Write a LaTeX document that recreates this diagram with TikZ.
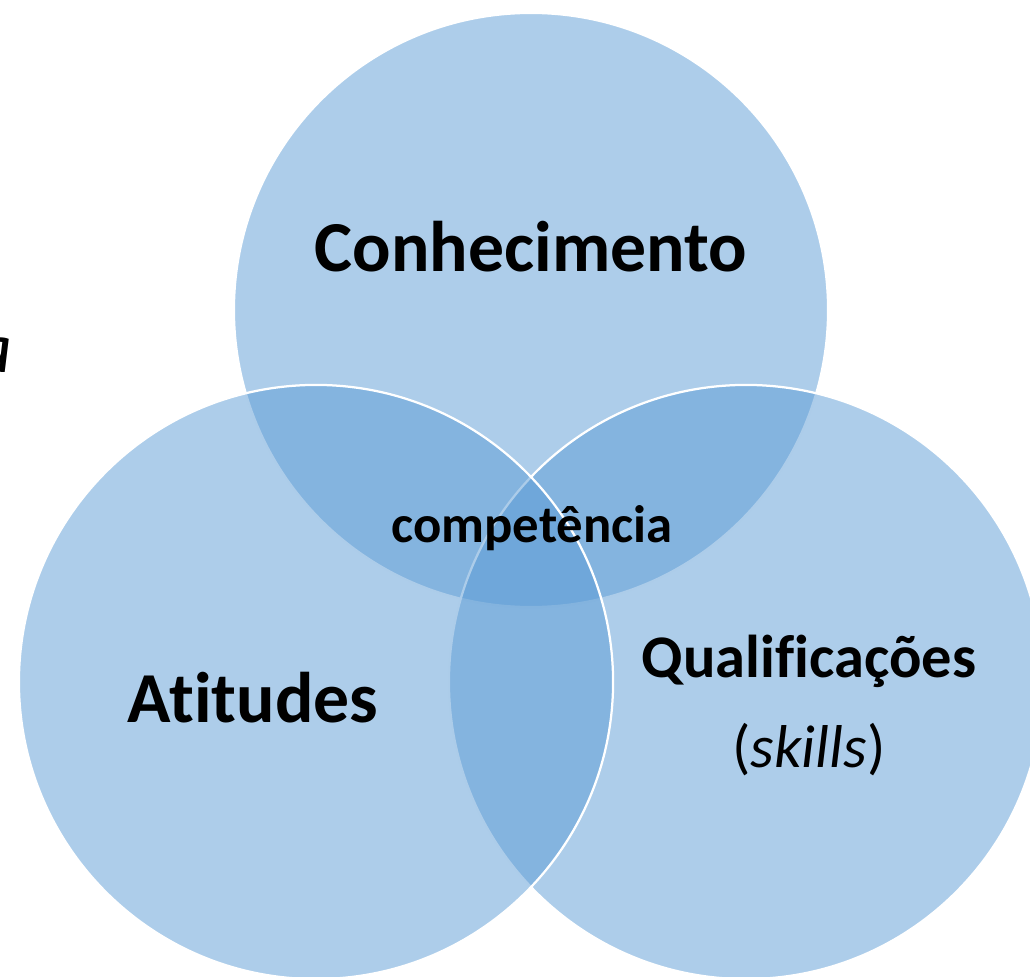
\documentclass[tikz,border=0pt]{standalone}
\usepackage{fontspec}
\setmainfont[Ligatures=NoCommon]{Carlito}
\definecolor{accent}{RGB}{91,155,213}
\tikzset{
  venn/.style={circle,minimum size=14.85cm,inner sep=0pt,fill=accent,fill opacity=0.5,draw=white,draw opacity=1,line width=1.6pt},
  big/.style={anchor=base,inner sep=0pt,font=\bfseries\fontsize{51}{60}\selectfont},
  mid/.style={anchor=base,inner sep=0pt,font=\bfseries\fontsize{43}{52}\selectfont}
}
\begin{document}
\begin{tikzpicture}[x=0.025cm,y=-0.025cm]
\useasboundingbox (0,0) rectangle (1030,977);
\clip (0,0) rectangle (1030,977);

\node[venn] (v1) at (531,310) {};
\node[venn] (v2) at (746,682) {};
\node[venn] (v3) at (316,682) {};

\node[big] (v4) at (531,272) {Conhecimento};
\node[big] (v5) at (253,722) {Atitudes};
\node[mid] (v6) at (809,677) {Qualificações};
\node[anchor=base,inner sep=0pt,font=\fontsize{43}{52}\selectfont] (v7) at (809,767) {(\textit{skills})};
\node[anchor=base,inner sep=0pt,font=\bfseries\fontsize{37.5}{45}\selectfont] (v8) at (532,542) {competência};
\node[anchor=base east,inner sep=0pt,font=\itshape\fontsize{51}{60}\selectfont] (v9) at (13,372) {a};
\end{tikzpicture}
\end{document}
